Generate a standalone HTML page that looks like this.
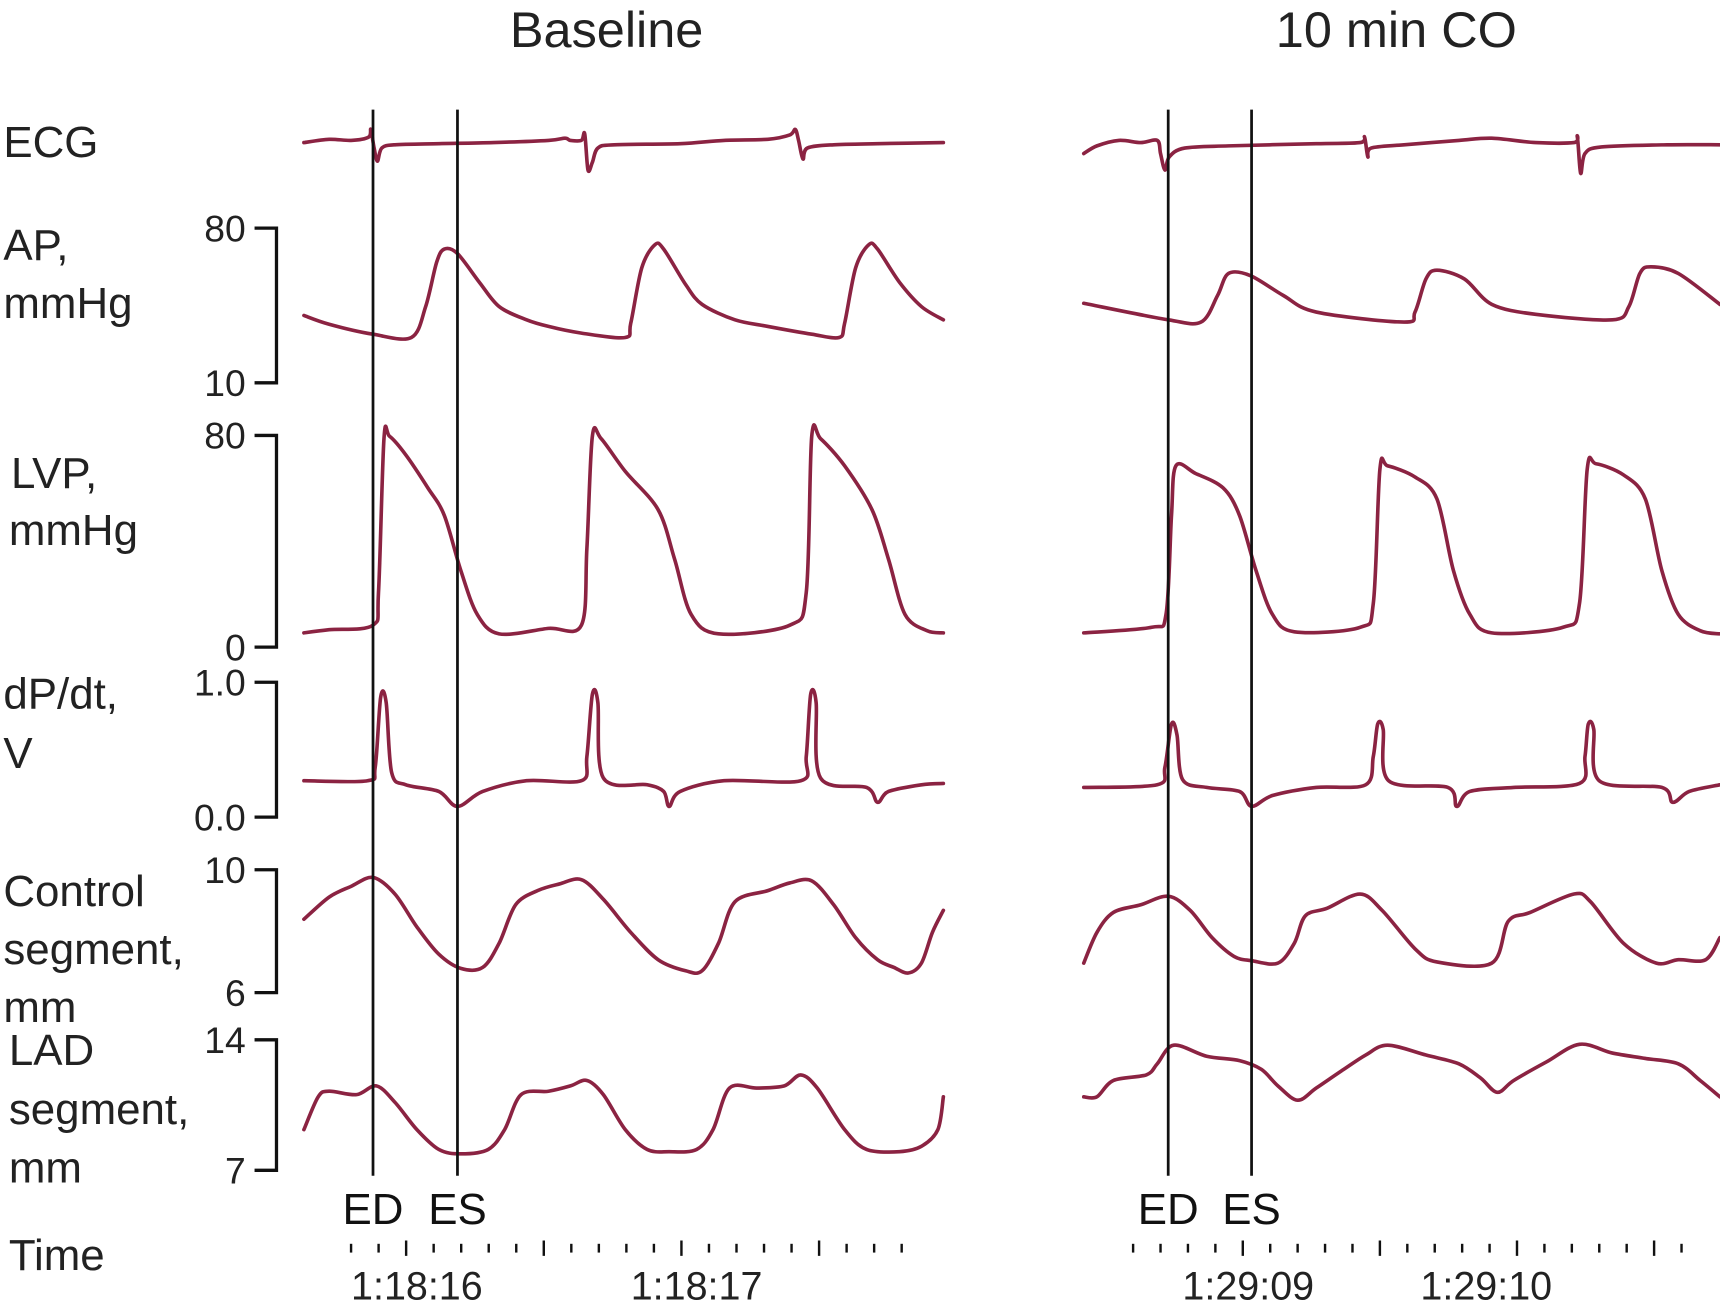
<!DOCTYPE html>
<html><head><meta charset="utf-8"><style>
html,body{margin:0;padding:0;background:#fff;}
svg{display:block;font-family:"Liberation Sans",Arial,sans-serif;}
</style></head><body>
<svg id="chart" width="1720" height="1314" viewBox="0 0 1568 1198" xmlns="http://www.w3.org/2000/svg">
<rect width="1568" height="1198" fill="#fff"/>
<text x="553" y="43" font-size="46" text-anchor="middle" fill="#222">Baseline</text>
<text x="1273" y="43" font-size="46" text-anchor="middle" fill="#222">10 min CO</text>
<g font-size="40" fill="#222">
<text x="3" y="143">ECG</text>
<text x="3" y="237">AP,</text>
<text x="3" y="290">mmHg</text>
<text x="10" y="445">LVP,</text>
<text x="8" y="497">mmHg</text>
<text x="3" y="646">dP/dt,</text>
<text x="3" y="700">V</text>
<text x="3" y="826">Control</text>
<text x="3" y="879">segment,</text>
<text x="3" y="932">mm</text>
<text x="8" y="971">LAD</text>
<text x="8" y="1025">segment,</text>
<text x="8" y="1078">mm</text>
<text x="8" y="1158">Time</text>
</g>
<g id="axes"></g>
<g id="traces"></g>
<g id="markers"></g>
<g id="timeaxis"></g>
</svg>
<script>
// ---- time samples (ms) and values ----
const ecgLT=[-412,-320,-240,-176,-168,-156,-144,-128,-80,80,280,480,540,560,600,612,624,640,660,720,960,1120,1280,1360,1380,1392,1408,1424,1520,1680,1920];
const ecgLV=[0,0.06,0.04,0.1,0.24,-0.1,-0.34,-0.1,-0.04,-0.02,0,0.04,0.08,0.04,0.04,0.16,-0.5,-0.36,-0.1,-0.04,-0.02,0.04,0.06,0.14,0.24,0.04,-0.3,-0.1,-0.04,-0.02,0];
const ecgRT=[-600,-552,-472,-392,-332,-320,-304,-288,-232,-72,248,408,424,436,448,568,768,888,1048,1188,1200,1212,1228,1288,1528,1720];
const ecgRV=[-0.2,-0.06,0.04,0,0.04,-0.2,-0.5,-0.26,-0.1,-0.06,-0.02,0,0.1,-0.26,-0.1,-0.04,0.04,0.08,0,0,0.1,-0.56,-0.2,-0.08,-0.04,-0.04];

const apLT=[-412,-320,-160,-20,32,72,100,148,228,300,400,480,600,760,780,820,868,900,980,1040,1160,1280,1440,1540,1560,1600,1648,1680,1760,1840,1920];
const apLV=[40.5,36.5,32,30.5,44.5,64.5,70.5,68.5,55.5,44.5,38.5,35.5,32.5,30.5,37,62,72.5,70.5,54.5,45.5,38.5,35.5,32,30.5,37,62,72.5,70.5,55.5,44.5,38.5];
const apRT=[-600,-292,-172,-112,-72,8,128,248,568,608,648,688,788,888,1048,1328,1388,1428,1468,1568,1720];
const apRV=[46,38.5,37.5,49.5,59.5,58.5,49.5,42,37.5,42,57,61,57,45.5,41,38.5,44.5,59.5,62.5,59.5,45.5];

const lvpLT=[-412,-320,-160,-140,-120,-100,-40,40,100,160,220,300,480,600,620,640,672,760,880,940,1000,1100,1360,1420,1440,1472,1560,1660,1720,1780,1860,1920];
const lvpLV=[5.4,6.6,8.3,20.7,78.8,79.7,72.6,60.2,49.8,29,12.4,5,7.1,8.3,37.3,79.7,78.8,66.4,51.9,33.2,12.4,5,8.3,20.7,79.7,78.8,68.5,51.9,33.2,12.4,6.2,5.4];
const lvpRT=[-600,-352,-300,-280,-264,-192,-92,-32,28,88,168,408,456,480,508,608,688,748,808,888,1148,1208,1236,1268,1368,1448,1508,1568,1648,1720];
const lvpRV=[5.4,7.5,12.4,49.8,68.5,65.6,60.2,49.8,29,12.4,5.8,7.5,16.6,67.2,68.5,64.3,56,29,12.4,5.4,7.5,16.6,67.2,69.3,65.1,56,29,12.4,6.2,5];

const dpLT=[-412,-180,-152,-132,-112,-92,-40,80,148,240,400,600,620,640,660,680,840,900,920,960,1120,1400,1420,1436,1456,1472,1640,1680,1720,1840,1920];
const dpLV=[0.27,0.27,0.37,0.89,0.85,0.33,0.24,0.19,0.08,0.19,0.27,0.27,0.45,0.91,0.85,0.29,0.24,0.19,0.08,0.19,0.27,0.27,0.45,0.91,0.85,0.29,0.22,0.11,0.19,0.24,0.25];
const dpRT=[-600,-332,-304,-280,-260,-240,-152,-32,12,88,248,428,456,472,492,512,728,760,808,968,1208,1228,1240,1260,1280,1508,1548,1608,1720];
const dpRV=[0.22,0.24,0.37,0.69,0.61,0.28,0.22,0.19,0.08,0.16,0.22,0.24,0.45,0.69,0.65,0.27,0.22,0.08,0.19,0.22,0.25,0.45,0.69,0.65,0.27,0.22,0.11,0.19,0.24];

const ctlLT=[-412,-320,-240,-160,-80,0,80,160,240,300,360,440,520,600,680,780,880,980,1040,1100,1160,1280,1360,1440,1520,1600,1680,1740,1792,1840,1880,1920];
const ctlLV=[8.39,9.11,9.46,9.75,9.21,8.14,7.25,6.79,6.82,7.61,8.86,9.32,9.54,9.68,9.04,7.96,7.07,6.71,6.71,7.61,8.96,9.32,9.57,9.64,8.86,7.79,7.07,6.82,6.64,6.96,7.96,8.68];
const ctlRT=[-600,-552,-492,-392,-292,-212,-132,-52,12,108,168,208,288,408,488,608,688,888,948,1028,1188,1248,1368,1488,1568,1668,1720];
const ctlRV=[6.96,7.96,8.61,8.86,9.14,8.68,7.79,7.18,7.04,6.96,7.61,8.5,8.75,9.21,8.68,7.43,7,6.96,8.32,8.61,9.21,8.96,7.61,6.96,7.07,7.07,7.79];

const ladLT=[-412,-360,-320,-220,-148,-80,0,80,160,260,320,380,480,560,620,680,760,840,920,1020,1080,1140,1240,1340,1400,1460,1560,1640,1760,1840,1900,1920];
const ladLV=[9.18,10.94,11.24,11.06,11.53,10.65,9.18,8.12,7.88,8.12,9.18,11.06,11.24,11.53,11.82,11.06,9.18,8.12,8,8.12,9.18,11.41,11.41,11.53,12.12,11.41,9.18,8.12,8,8.29,9.18,10.94];
const ladRT=[-600,-552,-492,-372,-332,-272,-152,-32,48,108,180,248,348,428,508,648,768,848,908,968,1088,1208,1328,1448,1568,1648,1720];
const ladRV=[10.94,10.94,11.82,12.12,12.71,13.71,13.12,12.88,12.41,11.53,10.76,11.41,12.41,13.18,13.71,13.18,12.71,11.94,11.18,11.82,12.82,13.76,13.29,13,12.71,11.82,10.94];

// axis tick labels
const axisTicks=[["80","10"],["80","0"],["1.0","0.0"],["10","6"],["14","7"]];
const markerLabels=["ED","ES"];
const markerTimesL=[-160,148];
const markerTimesR=[-292,12];
const timeLabelsL=["1:18:16","1:18:17"];
const timeLabelsR=["1:29:09","1:29:10"];
const timeLabelTimesL=[0,1020];
const timeLabelTimesR=[0,868];

// ---- scales ----
const xL=t=>380+t/4, xR=t=>1138+t/4;
const yECG=v=>130-v*50;
const yAP=v=>349-(v-10)*141/70;
const yLVP=v=>590-v*193/80;
const yDP=v=>745-v*123;
const yCTL=v=>905-(v-6)*28;
const yLAD=v=>1067-(v-7)*17;

const NS="http://www.w3.org/2000/svg";
const gT=document.getElementById('traces');
function trace(ts,vs,xs,ys,name){
  const P=ts.map((t,i)=>[xs(t),ys(vs[i])]);
  let d="M"+P[0][0].toFixed(1)+","+P[0][1].toFixed(1);
  const k=0.16;
  for(let i=0;i<P.length-1;i++){
    const p0=P[Math.max(0,i-1)],p1=P[i],p2=P[i+1],p3=P[Math.min(P.length-1,i+2)];
    const c1=[p1[0]+(p2[0]-p0[0])*k,p1[1]+(p2[1]-p0[1])*k];
    const c2=[p2[0]-(p3[0]-p1[0])*k,p2[1]-(p3[1]-p1[1])*k];
    d+="C"+c1[0].toFixed(1)+","+c1[1].toFixed(1)+" "+c2[0].toFixed(1)+","+c2[1].toFixed(1)+" "+p2[0].toFixed(1)+","+p2[1].toFixed(1);
  }
  const p=document.createElementNS(NS,'path');
  p.setAttribute('d',d);p.setAttribute('fill','none');p.setAttribute('stroke','#8b2342');
  p.setAttribute('stroke-width','3.3');p.setAttribute('stroke-linejoin','round');p.setAttribute('stroke-linecap','round');
  
  
  gT.appendChild(p);
}
trace(ecgLT,ecgLV,xL,yECG,'ecg-baseline-trace');
trace(ecgRT,ecgRV,xR,yECG,'ecg-co-trace');
trace(apLT,apLV,xL,yAP,'ap-baseline-trace');
trace(apRT,apRV,xR,yAP,'ap-co-trace');
trace(lvpLT,lvpLV,xL,yLVP,'lvp-baseline-trace');
trace(lvpRT,lvpRV,xR,yLVP,'lvp-co-trace');
trace(dpLT,dpLV,xL,yDP,'dpdt-baseline-trace');
trace(dpRT,dpRV,xR,yDP,'dpdt-co-trace');
trace(ctlLT,ctlLV,xL,yCTL,'control-baseline-trace');
trace(ctlRT,ctlRV,xR,yCTL,'control-co-trace');
trace(ladLT,ladLV,xL,yLAD,'lad-baseline-trace');
trace(ladRT,ladRV,xR,yLAD,'lad-co-trace');

// ---- scale brackets ----
const gA=document.getElementById('axes');
const scales=[yAP,yLVP,yDP,yCTL,yLAD];
const axisNames=['ap','lvp','dpdt','control','lad'];
for(let i=0;i<5;i++){
  const top=scales[i](parseFloat(axisTicks[i][0])), bot=scales[i](parseFloat(axisTicks[i][1]));
  const p=document.createElementNS(NS,'path');
  p.setAttribute('d',`M232,${top}H252V${bot}H232`);
  p.setAttribute('fill','none');p.setAttribute('stroke','#111');p.setAttribute('stroke-width','3');
  
  
  gA.appendChild(p);
  [[top,axisTicks[i][0],'top'],[bot,axisTicks[i][1],'bottom']].forEach(([y,l,k])=>{
    const t=document.createElementNS(NS,'text');
    t.setAttribute('x','224');t.setAttribute('y',y+12);t.setAttribute('text-anchor','end');
    t.setAttribute('font-size','34');t.setAttribute('fill','#222');t.textContent=l;
    
    
    gA.appendChild(t);
  });
}

// ---- ED / ES markers ----
const gM=document.getElementById('markers');
[[markerTimesL,xL,'baseline'],[markerTimesR,xR,'co']].forEach(([ts,xs,pn])=>{
  ts.forEach((t,i)=>{
    const x=xs(t);
    const l=document.createElementNS(NS,'line');
    l.setAttribute('x1',x);l.setAttribute('x2',x);l.setAttribute('y1','100');l.setAttribute('y2','1072');
    l.setAttribute('stroke','#111');l.setAttribute('stroke-width','2.5');
    
    
    gM.appendChild(l);
    const tx=document.createElementNS(NS,'text');
    tx.setAttribute('x',x);tx.setAttribute('y','1116');tx.setAttribute('text-anchor','middle');
    tx.setAttribute('font-size','40');tx.setAttribute('fill','#111');tx.textContent=markerLabels[i];
    
    
    gM.appendChild(tx);
  });
});

// ---- time axis ticks ----
const gTA=document.getElementById('timeaxis');
function ticks(x0,n,step,majorStart,name){
  for(let i=0;i<n;i++){
    const x=x0+i*step, major=(i-majorStart)%5===0&&i>=majorStart;
    const l=document.createElementNS(NS,'line');
    l.setAttribute('x1',x);l.setAttribute('x2',x);
    l.setAttribute('y1',major?1131:1134);l.setAttribute('y2',major?1145:1142);
    l.setAttribute('stroke','#111');l.setAttribute('stroke-width','2.2');
    
    
    gTA.appendChild(l);
  }
}
ticks(320,21,25.1,2,'time-baseline');
ticks(1033,21,25,4,'time-co');
[[timeLabelsL,timeLabelTimesL,xL,'baseline'],[timeLabelsR,timeLabelTimesR,xR,'co']].forEach(([ls,ts,xs,pn])=>{
  ls.forEach((s,i)=>{
    const t=document.createElementNS(NS,'text');
    t.setAttribute('x',xs(ts[i]));t.setAttribute('y','1185');t.setAttribute('text-anchor','middle');
    t.setAttribute('font-size','36');t.setAttribute('fill','#222');t.textContent=s;
    
    
    gTA.appendChild(t);
  });
});
</script>
</body></html>
